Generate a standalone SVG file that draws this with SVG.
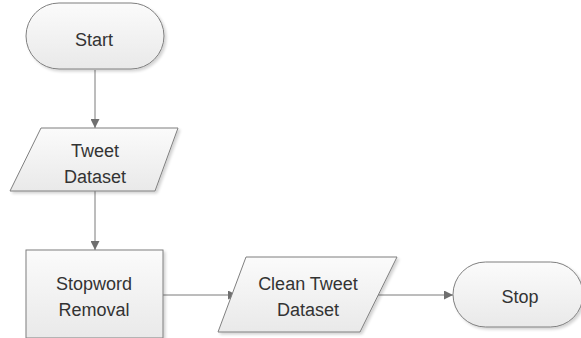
<svg xmlns="http://www.w3.org/2000/svg" width="581" height="338" viewBox="0 0 581 338">
<style>
.shape{fill:url(#g);stroke:#7f7f7f;stroke-width:1;filter:url(#sh)}
.lbl{font-family:"Liberation Sans",Arial,sans-serif;font-size:18px;fill:#333;text-anchor:middle}
.conn{stroke:#7a7a7a;stroke-width:1;fill:none;marker-end:url(#ah)}
</style>
<defs>
<linearGradient id="g" x1="0" y1="0" x2="0" y2="1">
<stop offset="0" stop-color="#fbfbfb"/>
<stop offset="1" stop-color="#e9e9e9"/>
</linearGradient>
<filter id="sh" x="-10%" y="-10%" width="130%" height="130%">
<feGaussianBlur in="SourceAlpha" stdDeviation="1.5"/>
<feOffset dx="1.5" dy="1.5" result="b"/>
<feComponentTransfer><feFuncA type="linear" slope="0.18"/></feComponentTransfer>
<feMerge><feMergeNode/><feMergeNode in="SourceGraphic"/></feMerge>
</filter>
<marker id="ah" viewBox="0 0 10 10" refX="10" refY="5" markerWidth="9" markerHeight="9" markerUnits="userSpaceOnUse" orient="auto">
<path d="M0,0 L10,5 L0,10 z" fill="#6f6f6f"/>
</marker>
</defs>
<g id="connectors">
<line class="conn" x1="95" y1="70" x2="95" y2="128"/>
<line class="conn" x1="95" y1="191" x2="95" y2="250"/>
<line class="conn" x1="163" y1="295" x2="237" y2="295"/>
<line class="conn" x1="377" y1="295" x2="453" y2="295"/>
</g>
<g id="start">
<rect class="shape" x="26" y="3" width="138" height="66" rx="33" ry="33"/>
<text class="lbl" x="94" y="46">Start</text>
</g>
<g id="tweet-dataset">
<polygon class="shape" points="41,128 178,128 155,191 10,191"/>
<text class="lbl" x="95" y="157">Tweet</text>
<text class="lbl" x="95" y="183">Dataset</text>
</g>
<g id="stopword-removal">
<rect class="shape" x="26" y="250" width="137" height="88"/>
<text class="lbl" x="94" y="290">Stopword</text>
<text class="lbl" x="94" y="316">Removal</text>
</g>
<g id="clean-tweet-dataset">
<polygon class="shape" points="246,257 397,257 360,332 218,332"/>
<text class="lbl" x="308" y="290">Clean Tweet</text>
<text class="lbl" x="308" y="316">Dataset</text>
</g>
<g id="stop">
<rect class="shape" x="453" y="262" width="130" height="65" rx="32.5" ry="32.5"/>
<text class="lbl" x="520" y="303">Stop</text>
</g>
</svg>
